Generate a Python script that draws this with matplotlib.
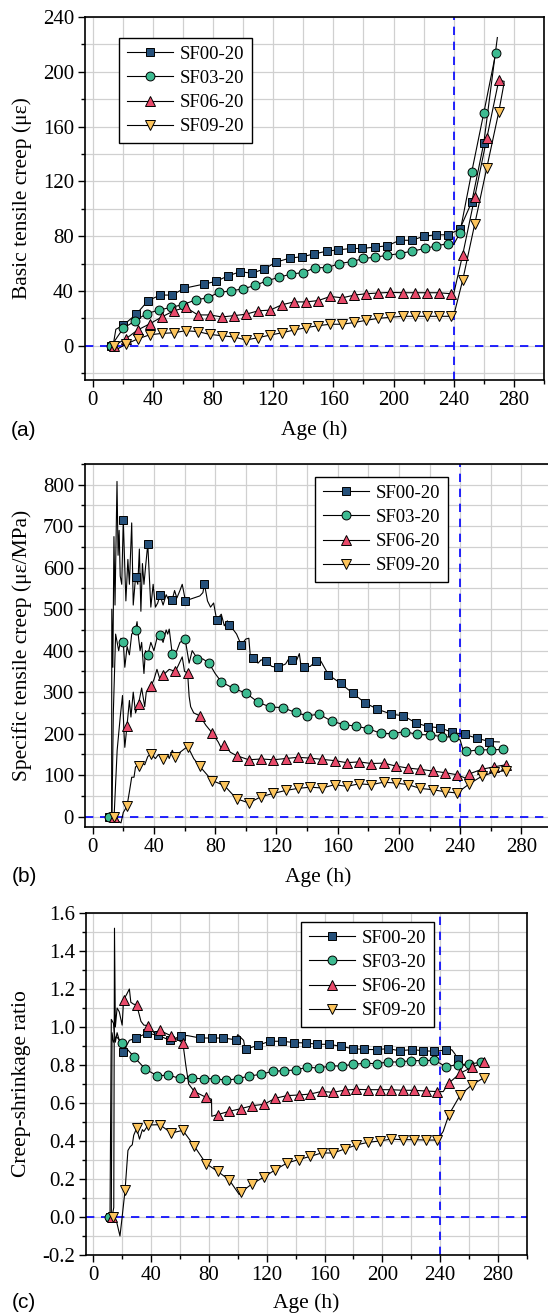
import matplotlib
matplotlib.use("Agg")
import matplotlib.pyplot as plt
from matplotlib.lines import Line2D
from matplotlib.ticker import MultipleLocator, FormatStrFormatter

plt.rcParams['font.family'] = 'Liberation Serif'
plt.rcParams['axes.unicode_minus'] = False

labels = ['SF00-20', 'SF03-20', 'SF06-20', 'SF09-20']
markers = ['s', 'o', '^', 'v']
sizes = [6.0, 6.4, 7.0, 7.0]
fills = ['#25507a', '#3dbb91', '#e84a6a', '#fcc45c']

# ---- (a) basic tensile creep: marker points ----
a_sf00_x = [12, 20.4, 29, 37, 45, 53, 61, 74, 82, 90, 98, 106, 114, 122, 131, 139.5, 147, 155.5, 163, 172,
            179, 187.5, 196, 204, 212, 220.5, 228, 236, 244, 252, 260]
a_sf00_y = [0, 15, 23, 33, 37, 37, 42, 45, 47, 51, 54, 53, 56, 61, 64, 65, 67, 69, 70, 71,
            71, 72, 73, 77, 77, 80, 81, 81, 85, 105, 148]
a_sf03_x = [12.5, 20.4, 28, 36, 44, 52, 60, 68.6, 76.5, 84, 92, 100, 108, 116, 124, 132, 140, 148, 156, 164,
            172.5, 180, 188, 196, 204, 212, 221, 228.5, 236, 244, 252, 260, 268]
a_sf03_y = [0, 12.7, 18, 23.5, 26, 28, 30, 33.5, 35, 39, 40, 41.6, 44, 47.5, 50, 52.4, 53.4, 57, 57, 60,
            61.5, 63.7, 64.7, 66, 67.3, 69, 71, 73, 74.5, 82, 127, 170, 214]
a_sf06_x = [14, 22, 30, 38, 46, 54, 62, 70, 78, 86, 94, 102, 110, 118, 126, 134, 142, 150, 158, 166,
            174, 182, 190, 198, 206, 214, 222, 230, 238, 246, 254, 262, 270]
a_sf06_y = [0, 5, 11.5, 16, 21, 25.5, 28, 22.5, 22.5, 21, 22, 23, 25.5, 26, 30, 32, 32, 33, 36, 35,
            37, 38, 38.5, 39, 38.7, 38.7, 38.7, 38.7, 38, 66.6, 108.7, 151.6, 194]
a_sf09_x = [14, 22, 30, 38, 46, 54, 62, 70, 78, 86, 94, 102, 110, 118, 126, 134, 142, 150, 158, 166,
            174, 182, 190, 198, 206, 214, 222, 230, 238, 246, 254, 262, 270]
a_sf09_y = [0, 1, 5, 8, 9, 9.5, 11, 10.3, 8.3, 7.3, 6.4, 4.2, 5.9, 7.8, 9.5, 11.5, 13.2, 14.7, 15.7, 15.7,
            17, 18.6, 20, 20.8, 21.5, 21.5, 21.5, 21.5, 21.5, 48, 89, 130, 171]
# extra line vertices (between markers)
a_sf00_extra = [(13.5, -1), (15.5, 12), (240, 83), (269, 225)]
a_sf03_extra = [(10.5, 0), (240, 74)]
a_sf06_extra = [(240, 38), (273.5, 193)]
a_sf09_extra = [(15.5, -3), (240, 22), (273.5, 192)]

# ---- (b) specific tensile creep ----
b_sf00_x = [11, 20, 28, 36, 44, 52, 60.6, 73, 81, 89, 97, 105, 113, 121, 130, 138, 146, 154, 162, 170,
            178, 186, 195, 203, 211, 219, 227, 235, 243, 251, 259]
b_sf00_y = [0, 715, 577, 657, 534, 523, 520, 561, 474, 461, 414, 383, 374, 360, 377, 361, 375, 342, 321, 297,
            274, 259, 247, 243, 226, 217, 214, 203, 198, 189, 181]
b_sf03_x = [11, 20, 28, 36, 44, 52, 60.4, 68.4, 76, 84, 92, 100, 108, 116, 124, 132.5, 140, 148, 156, 164,
            172, 180, 188, 196, 204, 212, 220, 228, 236, 244, 252, 260, 268]
b_sf03_y = [0, 421, 450, 389, 437, 391, 428, 381, 370, 325, 309, 298, 276, 264, 263, 251, 243, 247, 230, 222,
            218, 212, 201, 200, 205, 198, 197, 193, 191, 157, 161, 161, 162]
b_sf06_x = [14, 22.4, 30, 38, 46, 54, 62, 70, 78, 86, 94, 102, 110, 118, 126, 134, 142, 150, 158, 166,
            174, 182, 190, 198, 206, 214, 222, 230, 238, 246, 254, 262, 270]
b_sf06_y = [0, 218, 272, 314, 341, 350, 347, 243, 202, 173, 147, 137, 139, 137, 140, 143, 141, 138, 135, 130,
            132, 128, 129, 122, 117, 114, 110, 106, 101, 103, 114, 120, 125]
b_sf09_x = [14, 22.4, 30, 38, 46, 54, 62, 70, 78, 86, 94, 102, 110, 118, 126, 134, 142, 150, 158, 166,
            174, 182, 190, 198, 206, 214, 222, 230, 238, 246, 254, 262, 270]
b_sf09_y = [0, 25, 123, 151, 139, 143, 169, 121, 87, 75, 43, 33, 48, 56, 63, 68, 71, 69, 77, 73,
            79, 77, 83, 81, 77, 68, 65, 60, 57, 79, 97, 107, 111]
b_sf00_extra = [(12.4, 0), (12.5, 500), (13.2, 360), (13.9, 675), (14.6, 510), (15.9, 808), (16.6, 630),
                (17.3, 690), (18.0, 580), (19.0, 560), (21.0, 600), (21.7, 520), (23.0, 620), (24.0, 560),
                (25.5, 708), (26.5, 510), (29.5, 560), (30.5, 645), (31.5, 495), (32.5, 610), (33.5, 560),
                (34.5, 600), (37.0, 580), (38.0, 505), (39.5, 560), (41.0, 505), (42.5, 515), (46.0, 510),
                (48.0, 535), (50.0, 520), (53.5, 545), (55.0, 527), (57.0, 545), (58.5, 560), (62.0, 522),
                (66.0, 527), (70.0, 532), (72.0, 540), (75.0, 520), (77.0, 505), (79.0, 515), (84.0, 488),
                (86.0, 460), (88.0, 472), (92.0, 450), (94.0, 440), (100.0, 428), (102.0, 430), (103.0, 385),
                (108.0, 370), (110.0, 378), (117.0, 362), (126.0, 368), (128.0, 380), (133.0, 375),
                (135.0, 393), (136.0, 365), (142.0, 362), (149.0, 375), (265.6, 180)]
b_sf03_extra = [(12.6, 0), (13.5, 250), (15.0, 440), (17.0, 400), (18.5, 430), (21.0, 360), (22.5, 410),
                (24.0, 390), (25.5, 440), (29.0, 470), (30.0, 430), (31.0, 400), (32.0, 420), (33.5, 345),
                (34.5, 400), (38.0, 420), (40.0, 400), (42.0, 430), (46.0, 420), (48.0, 450), (49.0, 440),
                (50.0, 452), (55.0, 400), (57.0, 420), (63.0, 370), (65.0, 400), (72.0, 380), (80.0, 345),
                (240.0, 185), (242.0, 160)]
b_sf06_extra = [(16.0, 160), (18.0, 240), (19.5, 292), (20.5, 200), (21.0, 167), (24.0, 280), (25.0, 240),
                (26.5, 300), (28.0, 250), (32.0, 310), (34.0, 265), (35.0, 300), (40.0, 330), (42.0, 355),
                (44.0, 330), (50.0, 355), (56.0, 365), (58.5, 385), (60.0, 350), (63.0, 290), (64.0, 265),
                (66.0, 250), (74.0, 220), (82.0, 180), (84.0, 165), (90.0, 155), (242.0, 95), (244.0, 92)]
b_sf09_extra = [(16.0, -10), (18.5, -15), (20.0, 10), (24.0, 60), (25.5, 95), (27.0, 95), (28.0, 120),
                (32.0, 130), (34.0, 125), (36.0, 145), (41.0, 140), (43.0, 150), (49.0, 150), (50.0, 140),
                (52.0, 160), (57.0, 155), (64.0, 155), (66.0, 140), (98.0, 38)]

# ---- (c) creep-shrinkage ratio ----
c_sf00_x = [11.6, 20.7, 29.4, 37, 45, 53, 61, 74, 82, 90, 98.4, 106, 114, 122, 130.7, 139, 147, 155, 163, 171.5,
            179.5, 187, 196, 204, 212, 220.5, 228.4, 236, 244, 252]
c_sf00_y = [0, 0.868, 0.94, 0.968, 0.956, 0.93, 0.953, 0.942, 0.942, 0.942, 0.933, 0.884, 0.904, 0.925, 0.925,
            0.918, 0.916, 0.909, 0.909, 0.898, 0.886, 0.882, 0.881, 0.886, 0.875, 0.881, 0.875, 0.872, 0.879, 0.833]
c_sf03_x = [11, 20, 28.5, 36, 44, 52, 60, 68, 76.5, 84, 92, 100, 108, 116, 124, 132, 140, 148, 156, 164,
            172, 180, 188, 196, 204, 212, 220, 228, 236, 244, 252, 260, 268]
c_sf03_y = [0, 0.914, 0.84, 0.779, 0.744, 0.746, 0.73, 0.73, 0.728, 0.728, 0.72, 0.728, 0.742, 0.751, 0.767,
            0.77, 0.774, 0.788, 0.784, 0.795, 0.795, 0.804, 0.809, 0.807, 0.816, 0.816, 0.823, 0.823, 0.825,
            0.791, 0.802, 0.805, 0.814]
c_sf06_x = [13, 21, 30, 38, 46, 54, 62, 70, 78, 86, 94, 102, 110, 118, 126, 134, 142, 150, 158, 166,
            174, 182, 190, 198, 206, 214, 222, 230, 238, 246, 254, 262, 270]
c_sf06_y = [0, 1.144, 1.117, 1.007, 0.982, 0.953, 0.916, 0.66, 0.63, 0.539, 0.556, 0.57, 0.586, 0.593, 0.625,
            0.639, 0.642, 0.647, 0.661, 0.656, 0.668, 0.672, 0.67, 0.67, 0.67, 0.667, 0.667, 0.663, 0.66,
            0.705, 0.758, 0.788, 0.814]
c_sf09_x = [13.5, 22, 30, 38, 46, 54, 62, 70, 78, 86, 94, 102, 110, 118, 126, 134, 142, 150, 158, 166,
            174, 182, 190, 198, 206, 214, 222, 230, 238, 246, 254, 262, 270]
c_sf09_y = [0, 0.14, 0.467, 0.484, 0.486, 0.442, 0.456, 0.372, 0.281, 0.24, 0.196, 0.13, 0.175, 0.21, 0.249,
            0.284, 0.302, 0.319, 0.337, 0.337, 0.358, 0.379, 0.393, 0.4, 0.41, 0.407, 0.407, 0.405, 0.405,
            0.539, 0.644, 0.696, 0.732]
c_sf00_extra = [(12.5, 1.04), (14.0, 1.02), (15.3, 0.92), (16.5, 0.97), (18.0, 0.93), (25.0, 0.93),
                (65.0, 0.955), (100.0, 0.96), (104.0, 0.93), (105.0, 0.885), (248.0, 0.88), (250.0, 0.86),
                (256.0, 0.80), (262.0, 0.79)]
c_sf03_extra = [(12.5, 0.0), (13.0, 0.97), (14.0, 0.92), (16.0, 0.95)]
c_sf06_extra = [(14.2, 0.05), (14.7, 1.52), (15.3, 1.0), (16.5, 1.1), (18.0, 1.08), (20.0, 1.01), (23.0, 1.17),
                (25.0, 1.2), (26.0, 1.13), (28.0, 1.12), (32.0, 1.06), (33.0, 1.03), (35.0, 1.01), (42.0, 0.97),
                (64.0, 0.8), (66.0, 0.7), (81.8, 0.62), (82.0, 0.53), (242.0, 0.66)]
c_sf09_extra = [(16.0, -0.02), (18.5, -0.1), (20.0, 0.0), (24.0, 0.35), (25.5, 0.37), (27.0, 0.38),
                (28.0, 0.43), (32.0, 0.41), (34.0, 0.46), (35.0, 0.45), (101.0, 0.118), (242.0, 0.45)]

panels = [
    dict(xs=[a_sf00_x, a_sf03_x, a_sf06_x, a_sf09_x], ys=[a_sf00_y, a_sf03_y, a_sf06_y, a_sf09_y],
         extras=[a_sf00_extra, a_sf03_extra, a_sf06_extra, a_sf09_extra],
         rect=(85, 17, 544, 380), ylim=(-25, 240), major=40, minor=20, fmt='%d',
         ylabel='Basic tensile creep (με)', tag='(a)', leg=(119, 38), xlab_y=430),
    dict(xs=[b_sf00_x, b_sf03_x, b_sf06_x, b_sf09_x], ys=[b_sf00_y, b_sf03_y, b_sf06_y, b_sf09_y],
         extras=[b_sf00_extra, b_sf03_extra, b_sf06_extra, b_sf09_extra],
         rect=(85, 464, 552, 827), ylim=(-25, 850), major=100, minor=50, fmt='%d',
         ylabel='Specific tensile creep (με/MPa)', tag='(b)', leg=(315, 477), xlab_y=877),
    dict(xs=[c_sf00_x, c_sf03_x, c_sf06_x, c_sf09_x], ys=[c_sf00_y, c_sf03_y, c_sf06_y, c_sf09_y],
         extras=[c_sf00_extra, c_sf03_extra, c_sf06_extra, c_sf09_extra],
         rect=(86, 913, 527, 1255), ylim=(-0.2, 1.6), major=0.2, minor=0.1, fmt='%.1f',
         ylabel='Creep-shrinkage ratio', tag='(c)', leg=(301, 922), xlab_y=1303),
]

W, H = 548, 1315
fig = plt.figure(figsize=(W / 100, H / 100), dpi=100)

for p in panels:
    l, t, r, b = p['rect']
    ax = fig.add_axes([l / W, 1 - b / H, (r - l) / W, (b - t) / H])

    for xs, ys, extra, mk, sz, fc in zip(p['xs'], p['ys'], p['extras'], markers, sizes, fills):
        pts = sorted(list(zip(xs, ys)) + extra)
        ax.plot([q[0] for q in pts], [q[1] for q in pts], color='black', lw=0.8, zorder=3)
        ax.plot(xs, ys, ls='none', marker=mk, ms=sz, mfc=fc, mec='black', mew=0.7, zorder=4)

    ax.axvline(240, color='#0000ff', lw=1.2, ls=(0, (5, 4)), zorder=2)
    ax.axhline(0, color='#0000ff', lw=1.2, ls=(0, (5, 4)), zorder=2)

    ax.set_xlim(-5, 300)
    ax.set_ylim(*p['ylim'])
    ax.xaxis.set_major_locator(MultipleLocator(40))
    ax.xaxis.set_minor_locator(MultipleLocator(20))
    ax.yaxis.set_major_locator(MultipleLocator(p['major']))
    ax.yaxis.set_minor_locator(MultipleLocator(p['minor']))
    ax.yaxis.set_major_formatter(FormatStrFormatter(p['fmt']))
    ax.grid(True, which='both', color='#d0d0d0', lw=0.9, zorder=0)
    ax.set_axisbelow(True)
    ax.tick_params(which='both', direction='out', top=False, right=False, labelsize=15, width=1.0)
    ax.tick_params(which='major', length=5, pad=3)
    ax.tick_params(which='minor', length=3)
    for s in ax.spines.values():
        s.set_linewidth(1.2)

    ax.set_xlabel('Age (h)', fontsize=15.5)
    ax.set_ylabel(p['ylabel'], fontsize=15.5)
    ax.xaxis.set_label_coords(0.5, 1 - (p['xlab_y'] - t) / (b - t), transform=ax.transAxes)
    ax.yaxis.set_label_coords((22 - l) / (r - l), 0.5, transform=ax.transAxes)
    ax.xaxis.label.set_va('center')
    ax.yaxis.label.set_va('center')

    fig.text(24 / W, 1 - p['xlab_y'] / H, p['tag'], family='Liberation Sans', fontsize=15,
             ha='center', va='center')

    handles = [Line2D([], [], color='black', lw=0.8, marker=mk, ms=sz, mfc=fc, mec='black', mew=0.7)
               for mk, sz, fc in zip(markers, sizes, fills)]
    lx, ly = p['leg']
    leg = ax.legend(handles, labels, loc='upper left', bbox_to_anchor=(lx / W, 1 - ly / H),
                    bbox_transform=fig.transFigure, borderaxespad=0, fontsize=13.5, fancybox=False,
                    edgecolor='black', framealpha=1, handlelength=2.5, labelspacing=0.38,
                    borderpad=0.4, handletextpad=0.35)
    leg.get_frame().set_linewidth(1.0)

fig.savefig('out.png', dpi=100)
